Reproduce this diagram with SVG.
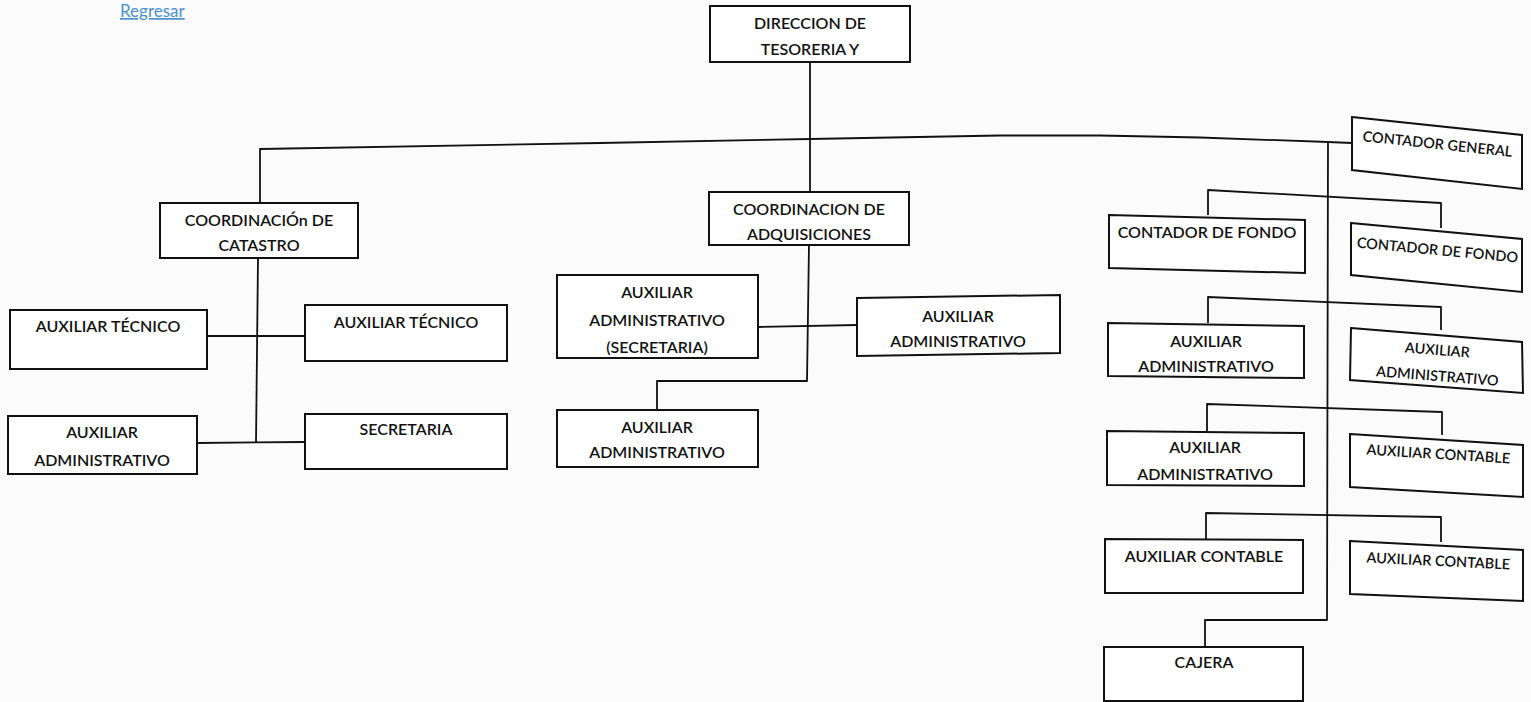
<svg xmlns="http://www.w3.org/2000/svg" width="1531" height="702" viewBox="0 0 1531 702">
<style>
.b{fill:#fff;stroke:#111;stroke-width:2}
.c{fill:none;stroke:#111;stroke-width:1.8;stroke-linejoin:round}
text{font-family:Lato,"Open Sans","Liberation Sans",sans-serif;font-size:16px;fill:#111;text-anchor:middle;font-weight:600}
text.r{font-size:14.5px}
.lnk{font-family:Lato,"Liberation Sans",sans-serif;font-size:17px;fill:#4a90d0;text-anchor:start;font-weight:400;text-decoration:underline}
</style>
<rect width="1531" height="702" fill="#fbfbfb"/>
<text class="lnk" x="120" y="17">Regresar</text>
<g id="connectors">
<polyline class="c" points="260,203 260,149 600,143 810,139 1000,135.5 1100,135.5 1200,137.5 1328,142 1352,143"/>
<line class="c" x1="810" y1="62" x2="810" y2="192"/>
<line class="c" x1="258" y1="258" x2="256" y2="443"/>
<line class="c" x1="207" y1="336" x2="305" y2="336"/>
<line class="c" x1="197" y1="443" x2="305" y2="442"/>
<polyline class="c" points="809,245 807,381 657,381 657,410"/>
<line class="c" x1="758" y1="327" x2="857" y2="325"/>
<polyline class="c" points="1328,142 1327,620 1205,620 1205,647"/>
<polyline class="c" points="1208,215 1208,190 1441,203 1441,228"/>
<polyline class="c" points="1208,323 1208,297 1441,307 1441,330"/>
<polyline class="c" points="1207,431 1207,404 1442,412 1442,435"/>
<polyline class="c" points="1206,539 1206,513 1441,517 1441,542"/>
</g>
<g id="n-direccion"><rect class="b" x="710" y="6" width="200" height="56"/><text x="810" y="29">DIRECCION DE</text><text x="810" y="55">TESORERIA Y</text></g>
<g id="n-catastro"><rect class="b" x="160" y="203" width="198" height="55"/><text x="259" y="226">COORDINACIÓn DE</text><text x="259" y="251">CATASTRO</text></g>
<g id="n-adquisiciones"><rect class="b" x="709" y="192" width="200" height="53"/><text x="809" y="215">COORDINACION DE</text><text x="809" y="240">ADQUISICIONES</text></g>
<g id="n-auxtec1"><rect class="b" x="10" y="310" width="197" height="59"/><text x="108" y="332">AUXILIAR TÉCNICO</text></g>
<g id="n-auxtec2"><rect class="b" x="305" y="305" width="202" height="56"/><text x="406" y="328">AUXILIAR TÉCNICO</text></g>
<g id="n-auxadm1"><rect class="b" x="8" y="416" width="189" height="58"/><text x="102" y="438">AUXILIAR</text><text x="102" y="466">ADMINISTRATIVO</text></g>
<g id="n-secretaria"><rect class="b" x="305" y="414" width="202" height="55"/><text x="406" y="435">SECRETARIA</text></g>
<g id="n-auxadmsec"><rect class="b" x="557" y="275" width="201" height="83"/><text x="657" y="298">AUXILIAR</text><text x="657" y="326">ADMINISTRATIVO</text><text x="657" y="353">(SECRETARIA)</text></g>
<g id="n-auxadm2"><polygon class="b" points="857,298 1060,295 1060,353 857,356"/><text x="958" y="322">AUXILIAR</text><text x="958" y="347">ADMINISTRATIVO</text></g>
<g id="n-auxadm3"><rect class="b" x="557" y="410" width="201" height="57"/><text x="657" y="433">AUXILIAR</text><text x="657" y="458">ADMINISTRATIVO</text></g>
<g id="n-contgeneral"><polygon class="b" points="1352,117 1522,135 1522,189 1352,170"/><text class="r" x="1437" y="149" transform="rotate(6 1437 149)">CONTADOR GENERAL</text></g>
<g id="n-fondo1"><polygon class="b" points="1109,215 1305,220 1305,273 1109,268"/><text x="1207" y="238">CONTADOR DE FONDO</text></g>
<g id="n-fondo2"><polygon class="b" points="1351,223 1522,239 1522,292 1351,275"/><text class="r" x="1437" y="255" transform="rotate(5.3 1437 255)">CONTADOR DE FONDO</text></g>
<g id="n-auxadm4"><polygon class="b" points="1108,323 1304,326 1304,378 1108,376"/><text x="1206" y="347">AUXILIAR</text><text x="1206" y="372">ADMINISTRATIVO</text></g>
<g id="n-auxadm5"><polygon class="b" points="1351,328 1522,342 1523,393 1350,380"/><text class="r" x="1437" y="355" transform="rotate(4.5 1437 355)">AUXILIAR</text><text class="r" x="1437" y="381" transform="rotate(4.5 1437 381)">ADMINISTRATIVO</text></g>
<g id="n-auxadm6"><polygon class="b" points="1107,431 1304,433 1304,486 1107,485"/><text x="1205" y="453">AUXILIAR</text><text x="1205" y="480">ADMINISTRATIVO</text></g>
<g id="n-auxcont1"><polygon class="b" points="1350,434 1523,445 1523,497 1350,487"/><text class="r" x="1438" y="459" transform="rotate(3.5 1438 459)">AUXILIAR CONTABLE</text></g>
<g id="n-auxcont2"><polygon class="b" points="1105,539 1303,540 1303,593 1105,593"/><text x="1204" y="562">AUXILIAR CONTABLE</text></g>
<g id="n-auxcont3"><polygon class="b" points="1350,541 1523,550 1523,601 1350,594"/><text class="r" x="1438" y="566" transform="rotate(2.8 1438 566)">AUXILIAR CONTABLE</text></g>
<g id="n-cajera"><rect class="b" x="1104" y="647" width="199" height="54"/><text x="1204" y="668">CAJERA</text></g>
</svg>
